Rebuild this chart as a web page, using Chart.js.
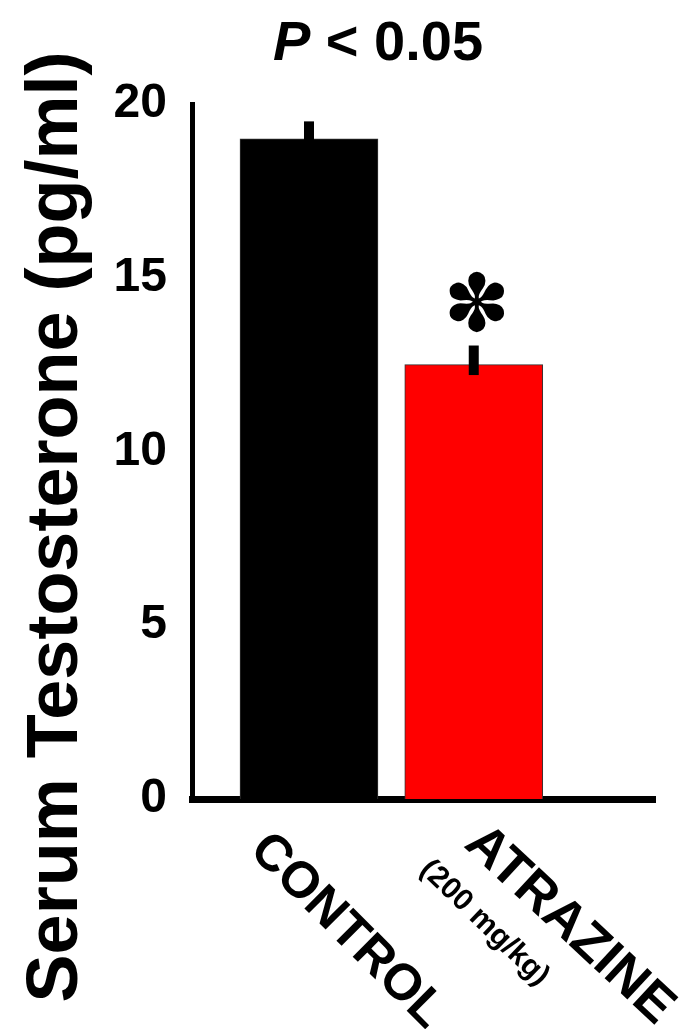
<!DOCTYPE html>
<html>
<head>
<meta charset="utf-8">
<script src="https://cdn.jsdelivr.net/npm/chart.js@4"></script>
<style>
  html, body { margin: 0; padding: 0; background: #fff; }
  #wrap { width: 685px; height: 1029px; }
</style>
</head>
<body>
<div id="wrap"><canvas id="chart"></canvas></div>
<script>
// data
const categories = ['CONTROL', 'ATRAZINE'];
const subLabels  = ['', '(200 mg/kg)'];
const means      = [19.0, 12.5];
const errUp      = [0.5, 0.55];
const errDown    = [0.5, 0.3];
const barColors  = ['#000000', '#ff0000'];
const yTicks     = [0, 5, 10, 15, 20];
const starred    = [false, true];
const yTitle     = 'Serum Testosterone (pg/ml)';

const FONT = "'Liberation Sans', Arial, sans-serif";

/* error bars, asterisk, titles and slanted category labels */
const extras = {
  id: 'extras',
  afterDatasetsDraw(chart) {
    const { ctx, scales: { x, y } } = chart;
    ctx.save();
    ctx.strokeStyle = '#000';
    ctx.lineWidth = 10;
    ctx.lineCap = 'butt';
    means.forEach((m, i) => {
      const px = x.getPixelForValue(i);
      ctx.beginPath();
      ctx.moveTo(px, y.getPixelForValue(m - errDown[i]));
      ctx.lineTo(px, y.getPixelForValue(m + errUp[i]));
      ctx.stroke();
      if (starred[i]) {
        ctx.fillStyle = '#000';
        ctx.font = `80px 'DejaVu Sans'`;
        ctx.textAlign = 'center';
        ctx.textBaseline = 'bottom';
        ctx.fillText('\u273D', px + 3, y.getPixelForValue(m + errUp[i]) + 5);
      }
    });
    ctx.restore();
  },
  afterDraw(chart) {
    const { ctx, scales: { x } } = chart;
    ctx.save();
    ctx.fillStyle = '#000';

    // title: italic P, then the rest
    const p = 'P', rest = ' < 0.05';
    ctx.font = `italic bold 56px ${FONT}`;
    const wP = ctx.measureText(p).width;
    ctx.font = `bold 56px ${FONT}`;
    const wR = ctx.measureText(rest).width;
    const tx = 378 - (wP + wR) / 2;
    ctx.textBaseline = 'alphabetic';
    ctx.textAlign = 'left';
    ctx.font = `italic bold 56px ${FONT}`;
    ctx.fillText(p, tx, 60);
    ctx.font = `bold 56px ${FONT}`;
    ctx.fillText(rest, tx + wP, 60);

    // y axis title
    ctx.save();
    ctx.translate(57, 527);
    ctx.rotate(-Math.PI / 2);
    ctx.font = `bold 72px ${FONT}`;
    ctx.textAlign = 'center';
    ctx.textBaseline = 'middle';
    ctx.fillText(yTitle, 0, 0);
    ctx.restore();

    // category labels, slanted downwards
    const anchors = [[-61, 852, 51, 45], [-11, 846, 53, 43]];
    categories.forEach((c, i) => {
      const px = x.getPixelForValue(i);
      const [dx, ay, size, deg] = anchors[i];
      ctx.save();
      ctx.translate(px + dx, ay);
      ctx.rotate(deg * Math.PI / 180);
      ctx.font = `bold ${size}px ${FONT}`;
      ctx.textAlign = 'left';
      ctx.textBaseline = 'alphabetic';
      ctx.fillText(c, 0, 0);
      ctx.restore();
      if (subLabels[i]) {
        ctx.save();
        ctx.translate(px - 55, 871);
        ctx.rotate(44 * Math.PI / 180);
        ctx.font = `bold 30px ${FONT}`;
        ctx.fillText(subLabels[i], 0, 0);
        ctx.restore();
      }
    });
    ctx.restore();
  }
};

new Chart(document.getElementById('chart'), {
  type: 'bar',
  data: {
    datasets: [{
      data: means.map((m, i) => ({ x: i, y: m })),
      backgroundColor: barColors,
      borderColor: '#333',
      borderWidth: 1,
      barThickness: 138,
    }],
  },
  options: {
    responsive: true,
    maintainAspectRatio: false,
    animation: false,
    layout: { padding: { top: 104, right: 30, left: 0, bottom: 0 } },
    plugins: { legend: { display: false }, tooltip: { enabled: false } },
    scales: {
      x: {
        type: 'linear',
        offset: false,
        min: -0.71,
        max: 2.1,
        grid: { display: false, drawTicks: false },
        border: { display: true, width: 7, color: '#000' },
        ticks: { display: false },
        afterFit: s => { s.height = 230; },
      },
      y: {
        min: 0,
        max: 20,
        grid: { display: false, drawTicks: false },
        border: { display: true, width: 5, color: '#000' },
        afterBuildTicks: s => { s.ticks = yTicks.map(v => ({ value: v })); },
        ticks: {
          color: '#000',
          padding: 25,
          font: { family: FONT, size: 48, weight: 'bold' },
        },
        afterFit: s => { s.width = 192; },
      },
    },
  },
  plugins: [extras],
});
</script>
</body>
</html>
